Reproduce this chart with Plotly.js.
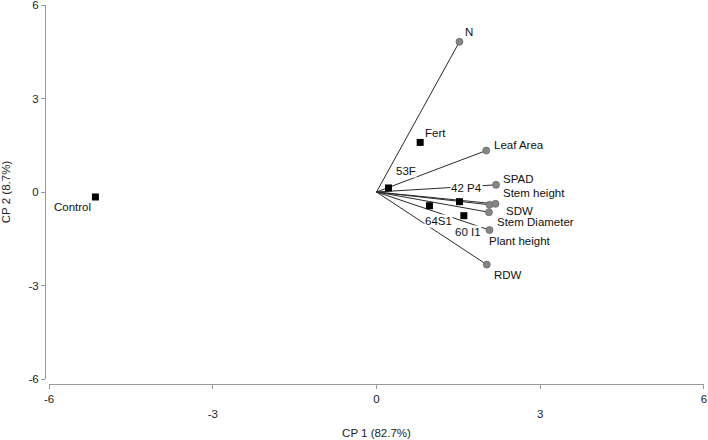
<!DOCTYPE html>
<html>
<head>
<meta charset="utf-8">
<script src="https://cdn.plot.ly/plotly-3.0.1.min.js"></script>
<style>html,body{margin:0;padding:0;background:#fff;}#chart{width:708px;height:440px;}</style>
</head>
<body>
<div id="chart"></div>
<script>
// Variable vectors (loadings)
const varNames = ['N', 'Leaf Area', 'SPAD', 'Stem height', 'SDW', 'Stem Diameter', 'Plant height', 'RDW'];
const varX = [1.52, 2.01, 2.19, 2.07, 2.18, 2.06, 2.07, 2.02];
const varY = [4.82, 1.33, 0.23, -0.41, -0.38, -0.65, -1.22, -2.33];
// Treatments (scores)
const trtNames = ['Fert', '53F', '42 P4', '64S1', '60 I1', 'Control'];
const trtX = [0.80, 0.22, 1.52, 0.97, 1.60, -5.15];
const trtY = [1.59, 0.13, -0.31, -0.44, -0.76, -0.16];
// Axis ticks
const tickVals = [-6, -3, 0, 3, 6];
const xTickText = ['-6', '<br>-3', '0', '<br>3', '6'];
const yTickText = ['-6', '-3', '0', '3', '6'];

// label offsets (pixels)
const varShiftX = [4, 6, 5, 12, 9, 6, -2, 5];
const varShiftY = [10, 6, 6, 12, -7, -10, -11, -10];
const trtShiftX = [4, 6, -9, -5, -10, -3];
const trtShiftY = [9, 17, 14, -15, -16, -10];
const trtAnchor = ['left', 'left', 'left', 'left', 'left', 'right'];

const FONT = 'Liberation Sans, Arial, sans-serif';
const traces = [];
varNames.forEach((n, i) => {
  traces.push({
    x: [0, varX[i]], y: [0, varY[i]], mode: 'lines', type: 'scatter',
    line: {color: '#2a2a2a', width: 1}, hoverinfo: 'skip', showlegend: false
  });
});
traces.push({
  x: varX, y: varY, mode: 'markers', type: 'scatter', text: varNames,
  marker: {symbol: 'circle', size: 7, color: '#858585', line: {color: '#6a6a6a', width: 0.8}},
  showlegend: false
});
traces.push({
  x: trtX, y: trtY, mode: 'markers', type: 'scatter', text: trtNames,
  marker: {symbol: 'square', size: 7, color: '#000000'},
  showlegend: false
});

const annotations = [];
varNames.forEach((n, i) => {
  annotations.push({x: varX[i], y: varY[i], xref: 'x', yref: 'y', text: n, showarrow: false,
    xanchor: 'left', yanchor: 'middle', xshift: varShiftX[i], yshift: varShiftY[i],
    font: {family: FONT, size: 11.5, color: '#111'}});
});
trtNames.forEach((n, i) => {
  annotations.push({x: trtX[i], y: trtY[i], xref: 'x', yref: 'y', text: n, showarrow: false,
    xanchor: trtAnchor[i], yanchor: 'middle', xshift: trtShiftX[i], yshift: trtShiftY[i],
    bgcolor: '#ffffff', borderpad: 0,
    font: {family: FONT, size: 11.5, color: '#111'}});
});

const layout = {
  width: 708, height: 440,
  margin: {l: 45, r: 4, t: 5, b: 56},
  paper_bgcolor: '#fff', plot_bgcolor: '#fff',
  font: {family: FONT, size: 11.5, color: '#222'},
  showlegend: false,
  xaxis: {
    range: [-6, 6], domain: [0.0061, 1], anchor: 'free', position: 0,
    tickvals: tickVals, ticktext: xTickText, ticklabeloverflow: 'allow',
    showgrid: false, zeroline: false, showline: true, linecolor: '#9a9a9a', linewidth: 1,
    ticks: 'outside', ticklen: 4, tickcolor: '#9a9a9a',
    tickfont: {family: FONT, size: 11.5, color: '#222'},
    title: {text: 'CP 1 (82.7%)', standoff: 10, font: {family: FONT, size: 11.5, color: '#222'}}
  },
  yaxis: {
    range: [-6, 6], domain: [0.0132, 1], anchor: 'free', position: 0,
    tickvals: tickVals, ticktext: yTickText, ticklabeloverflow: 'allow',
    showgrid: false, zeroline: false, showline: true, linecolor: '#9a9a9a', linewidth: 1,
    ticks: 'outside', ticklen: 4, tickcolor: '#9a9a9a',
    tickfont: {family: FONT, size: 11.5, color: '#222'},
    title: {text: 'CP 2 (8.7%)', standoff: 14, font: {family: FONT, size: 11.5, color: '#222'}}
  },
  annotations: annotations
};

Plotly.newPlot('chart', traces, layout, {displayModeBar: false, staticPlot: true});
</script>
</body>
</html>
